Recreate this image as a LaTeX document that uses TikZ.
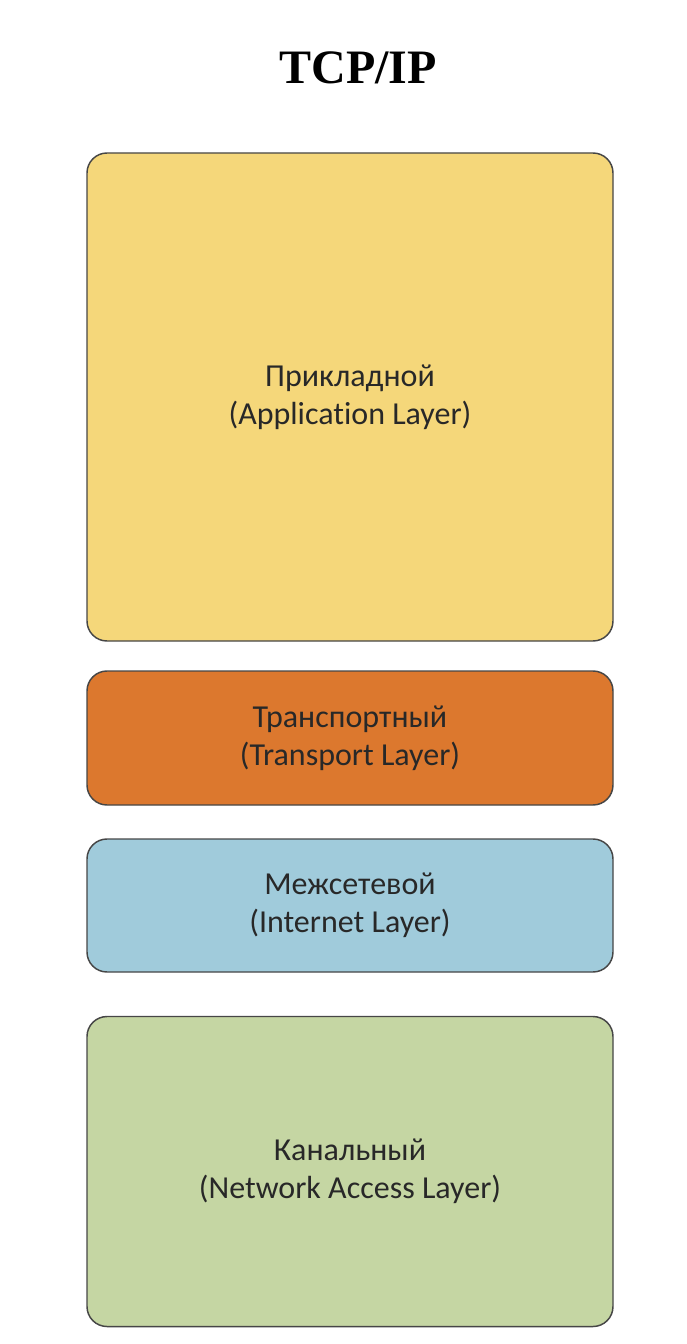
\documentclass[tikz,border=0pt]{standalone}
\usepackage{fontspec}
\setmainfont[Ligatures={NoCommon}]{Carlito}
\newfontfamily\titlefont{Liberation Serif}
\usepackage{tikz}

\definecolor{appcol}{RGB}{245,215,122}
\definecolor{trancol}{RGB}{220,120,46}
\definecolor{netcol}{RGB}{160,203,219}
\definecolor{linkcol}{RGB}{197,214,163}
\definecolor{edgecol}{RGB}{70,70,70}
\definecolor{txtcol}{RGB}{40,40,40}

\tikzset{
  layerbox/.style={draw=edgecol, line width=1.1pt, rounded corners=15pt,
    minimum width=394.5pt, inner sep=0pt, align=center, text=txtcol,
    font=\fontsize{24}{28.5}\selectfont}
}

\begin{document}
\begin{tikzpicture}[x=0.75pt,y=0.75pt,yscale=-1,xscale=1]
				%set diagram page to 686 x 1344
				\path [use as bounding box] (0,0) rectangle (686,1344);

				% Title
				\node (title) at (358,68) {\titlefont\bfseries\fontsize{36}{40}\selectfont TCP/IP};

				% Application layer
				\node (app) [layerbox, fill=appcol, minimum height=366pt] at (350,397) {Прикладной\\(Application Layer)};
				% Transport layer
				\node (tran) [layerbox, fill=trancol, minimum height=100.5pt] at (350,738) {Транспортный\\(Transport Layer)};
				% Internet layer
				\node (net) [layerbox, fill=netcol, minimum height=99.75pt] at (350,905.5) {Межсетевой\\(Internet Layer)};
				% Network access layer
				\node (link) [layerbox, fill=linkcol, minimum height=232.5pt] at (350,1171.5) {Канальный\\(Network Access Layer)};

\end{tikzpicture}
\end{document}
